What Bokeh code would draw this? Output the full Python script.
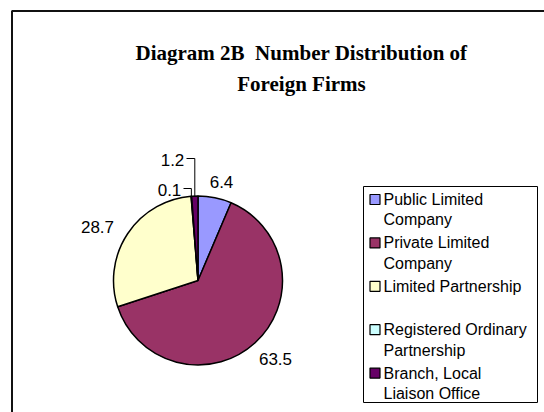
import numpy as np
from bokeh.plotting import figure
from bokeh.models import Range1d, ColumnDataSource
from bokeh.core.properties import value
from bokeh.embed import file_html
from bokeh.resources import INLINE

# ---- data ----
categories = ["Public Limited\nCompany", "Private Limited\nCompany", "Limited Partnership",
              "Registered Ordinary\nPartnership", "Branch, Local\nLiaison Office"]
shares = [6.4, 63.5, 28.7, 0.1, 1.2]
colors = ["#9999FF", "#993366", "#FFFFCC", "#CCFFFF", "#660066"]
title_lines = ["Diagram 2B\u00a0\u00a0Number Distribution of", "Foreign Firms"]

# ---- layout (data coords == page pixels) ----
W, H = 544, 412
def px(x): return x
def py(y): return H - y

cx, cy, R = px(197.5), py(280), 84.5

p = figure(width=W, height=H, output_backend="svg", toolbar_location=None,
           x_range=Range1d(0, W), y_range=Range1d(0, H), min_border=0)
p.axis.visible = False
p.grid.visible = False
p.outline_line_color = None
p.background_fill_color = "white"
p.border_fill_color = "white"

# outer chart frame (extends past the window on right/bottom)
p.line(x=[px(11.5), px(11.5), W + 20], y=[-20, py(10.5), py(10.5)],
       line_color="#111111", line_width=2)

# title
p.text(x=[px(301)] * 2, y=[py(52), py(83)], text=title_lines,
       text_font=value("Liberation Serif"), text_font_style="bold",
       text_font_size="21px", text_align="center", text_baseline="middle", text_color="black")

# pie
vals = np.array(shares, dtype=float)
total = vals.sum()
cum = np.concatenate([[0], np.cumsum(vals)])
start = np.pi / 2 - 2 * np.pi * cum[:-1] / total
end = np.pi / 2 - 2 * np.pi * cum[1:] / total
mid = (start + end) / 2
src = ColumnDataSource(dict(start=start, end=end, color=colors))
p.wedge(x=cx, y=cy, radius=R, start_angle="start", end_angle="end", direction="clock",
        fill_color="color", line_color="black", line_width=1.5, source=src)

# data labels
label_offsets = [(23.5, 99), (77.5, -78), (-100.5, 54), (-28.5, 91), (-25.5, 121)]
lx = [cx + dx for dx, dy in label_offsets]
ly = [cy + dy for dx, dy in label_offsets]
p.text(x=lx, y=ly, text=[f"{v:.1f}" for v in shares], text_font=value("Liberation Sans"),
       text_font_size="17px", text_align="center", text_baseline="middle", text_color="black")

# leader lines for the two small slices
xs, ys = [], []
for i in (3, 4):
    ex = cx + R * np.cos(mid[i])
    ey = cy + R * np.sin(mid[i])
    sx = lx[i] + 14
    xs.append([sx, ex, ex])
    ys.append([ly[i] + 1, ly[i] + 1, ey])
p.multi_line(xs=xs, ys=ys, line_color="black", line_width=1)

# legend
p.quad(left=px(363), right=px(537), top=py(186), bottom=py(402),
       fill_color="white", line_color="black", line_width=1)
step = 43.4
sw_y = [py(199) - step * i for i in range(len(categories))]
p.rect(x=[px(374.5)] * len(categories), y=sw_y, width=10, height=10,
       fill_color=colors, line_color="black", line_width=1.2)
p.text(x=[px(383)] * len(categories), y=[py(190.5) - step * i for i in range(len(categories))],
       text=categories, text_font=value("Liberation Sans"), text_font_size="16px",
       text_align="left", text_baseline="top", text_line_height=1.2, text_color="black")

open("out.html", "w").write(file_html(p, INLINE))
